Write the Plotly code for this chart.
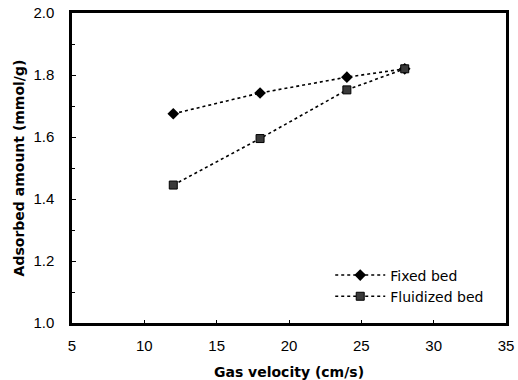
import plotly.graph_objects as go

velocity = [12, 18, 24, 28]
fixed_bed = [1.675, 1.742, 1.793, 1.82]
fluidized_bed = [1.445, 1.595, 1.752, 1.82]

fig = go.Figure()
fig.add_trace(go.Scatter(x=velocity, y=fixed_bed, name="Fixed bed", mode="lines+markers",
                         line=dict(color="black", width=1.6, dash="dot"),
                         marker=dict(symbol="diamond", size=9, color="black")))
fig.add_trace(go.Scatter(x=velocity, y=fluidized_bed, name="Fluidized bed", mode="lines+markers",
                         line=dict(color="black", width=1.6, dash="dot"),
                         marker=dict(symbol="square", size=8, color="#3a3a3a",
                                     line=dict(color="black", width=1))))

tickfont = dict(family="Arial, Liberation Sans, sans-serif", size=15, color="black")
titlefont = dict(family="DejaVu Sans, sans-serif", size=14, color="black")
fig.update_layout(
    width=518, height=380,
    margin=dict(l=72, r=12, t=13, b=57, autoexpand=False),
    plot_bgcolor="white", paper_bgcolor="white",
    font=tickfont,
    showlegend=True,
    legend=dict(x=0.595, y=0.205, xanchor="left", yanchor="top", bgcolor="rgba(0,0,0,0)",
                font=dict(family="DejaVu Sans, sans-serif", size=14), itemwidth=50, tracegroupgap=8),
    xaxis=dict(range=[5, 35], tickvals=[5, 10, 15, 20, 25, 30, 35], showgrid=False, zeroline=False,
               showline=True, linecolor="black", linewidth=2.5, mirror=True, automargin=False,
               ticks="inside", ticklen=3, tickcolor="black", ticklabelstandoff=7,
               tickfont=tickfont,
               title=dict(text="<b>Gas velocity (cm/s)</b>", standoff=15, font=titlefont)),
    yaxis=dict(range=[1.0, 2.0], tickvals=[1.0, 1.2, 1.4, 1.6, 1.8, 2.0], tickformat=".1f",
               showgrid=False, zeroline=False, automargin=False,
               showline=True, linecolor="black", linewidth=2.5, mirror=True,
               ticks="inside", ticklen=4, tickcolor="black", ticklabelstandoff=12,
               tickfont=tickfont,
               minor=dict(ticks="inside", ticklen=3, dtick=0.1, tickcolor="black"),
               title=dict(text="<b>Adsorbed amount (mmol/g)</b>", standoff=6, font=titlefont)),
)

fig.write_html("out.html")
